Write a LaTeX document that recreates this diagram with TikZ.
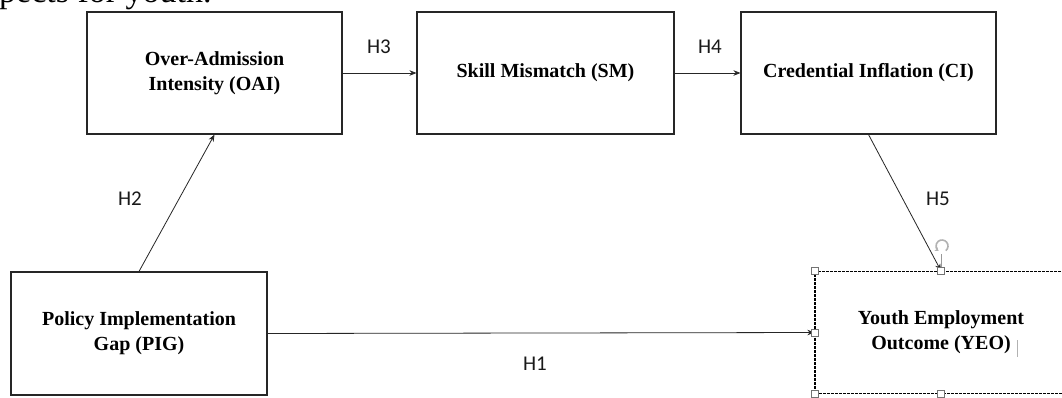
\documentclass[tikz,border=0pt]{standalone}
\usepackage{fontspec}
\setmainfont{Liberation Serif}
\newfontfamily\labelfont{Carlito}
\usetikzlibrary{arrows.meta}

\tikzset{
  varbox/.style={draw=black!85, line width=1.1pt, inner sep=0pt, align=center,
    font=\bfseries\fontsize{20}{25}\selectfont},
  path/.style={draw=black!85, line width=0.8pt, -{Stealth[length=7pt,width=5.5pt]}},
  hyp/.style={font=\labelfont\fontsize{21}{24}\selectfont, text=black!90},
  handle/.style={draw=black!55, fill=white, line width=0.6pt, minimum size=7pt, inner sep=0pt}
}

\begin{document}
\begin{tikzpicture}[x=1pt, y=-1pt]
  \useasboundingbox (0,0) rectangle (1062,397);
  \clip (0,0) rectangle (1062,397);
  \fill[white] (0,0) rectangle (1062,397);

  % tail of a text line running into the top edge
  \node[anchor=base west, inner sep=0pt, font=\fontsize{34}{40}\selectfont] (txt) at (-1,2) {pects for youth.};

  % constructs
  \node[varbox, minimum width=255pt, minimum height=122pt] (oai) at (214.5,73) {Over-Admission\\Intensity (OAI)};
  \node[varbox, minimum width=257pt, minimum height=122pt] (sm) at (545.5,73) {Skill Mismatch (SM)};
  \node[varbox, minimum width=255pt, minimum height=122pt] (ci) at (868.5,73) {Credential Inflation (CI)};
  \node[varbox, minimum width=256pt, minimum height=123pt] (pig) at (139,333.5) {Policy Implementation\\Gap (PIG)};
  \node[varbox, draw=black, line width=1.3pt, dash pattern=on 3pt off 1pt, minimum width=252pt, minimum height=122pt] (yeo) at (941,332.5) {Youth Employment\\Outcome (YEO)};

  % hypothesised paths
  \draw[path] (pig.north) -- (oai.south);
  \draw[path] (oai.east) -- (sm.west);
  \draw[path] (sm.east) -- (ci.west);
  \draw[path] (ci.south) -- (yeo.north);
  \draw[path] (pig.east) -- (yeo.west);

  % path labels
  \node[hyp] (h1) at (535,364) {H1};
  \node[hyp] (h2) at (130,199) {H2};
  \node[hyp] (h3) at (379,47) {H3};
  \node[hyp] (h4) at (710,47) {H4};
  \node[hyp] (h5) at (938,199) {H5};

  % selection frame handles on the outcome box
  \coordinate (rot) at (942,246);
  \draw[black!40, line width=0.6pt] (yeo.north) -- ++(0,-17);
  \draw[black!30, line width=1.6pt, -{Stealth[length=3.5pt,width=5pt]}] (rot) ++(-50:6pt) arc[start angle=-50, end angle=235, radius=6pt];
  \node[handle] (hn) at (yeo.north) {};
  \node[handle] (hnw) at (yeo.north west) {};
  \node[handle] (hw) at (yeo.west) {};
  \node[handle] (hsw) at (yeo.south west) {};
  \node[handle] (hs) at (yeo.south) {};
  % text cursor
  \draw[black!30, line width=0.5pt] (1017,340) -- (1017,357);
\end{tikzpicture}
\end{document}
